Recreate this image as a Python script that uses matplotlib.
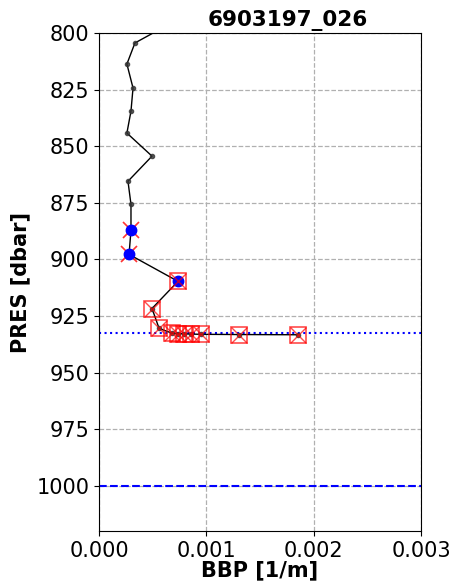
import numpy as np
from matplotlib import pyplot as plt

# profile values
pres = [797.0, 804.4, 813.7, 824.3, 834.5, 844.2, 854.4, 865.5, 875.7, 887.2, 897.8,
        909.7, 921.7, 930.5, 932.6, 932.8, 932.9, 933.0, 933.1, 933.2, 933.3]
bbp = [0.00062, 0.000335, 0.00026, 0.000317, 0.000298, 0.00026, 0.000494, 0.00027,
       0.000298, 0.000298, 0.00028, 0.000736, 0.000494, 0.00056, 0.00068, 0.00074,
       0.00079, 0.00086, 0.00095, 0.0013, 0.00185]

# flagged samples
good_idx = [9, 10, 11]          # blue circles
cross_idx = [9, 10]             # red x only
square_idx = [11, 12, 13, 14, 15, 16, 17, 18, 19, 20]  # red square + x

mld = 932.7
max_pres = 1000.0

pres = np.array(pres)
bbp = np.array(bbp)

fig = plt.figure(figsize=(4.51, 5.84), dpi=100)
ax = fig.add_axes([0.2195, 0.0907, 0.714, 0.8528])

ax.plot(bbp, pres, color="black", lw=1.0, zorder=3)
ax.plot(bbp, pres, "o", color="#333333", ms=3, alpha=0.8, zorder=4)
ax.plot(bbp[cross_idx], pres[cross_idx], "x", color="red", ms=12, mew=1.2, alpha=0.8, zorder=4)
ax.plot(bbp[square_idx], pres[square_idx], "s", mfc="none", mec="red", ms=12, mew=1.2, alpha=0.7, zorder=6)
ax.plot(bbp[square_idx], pres[square_idx], "x", color="red", ms=11, mew=1.0, alpha=0.7, zorder=6)
ax.plot(bbp[good_idx], pres[good_idx], "o", color="blue", ms=7.5, zorder=5)

ax.axhline(mld, color="blue", ls=":", lw=1.5, zorder=2)
ax.axhline(max_pres, color="blue", ls="--", lw=1.5, zorder=2)

ax.set_xlim(0, 0.003)
ax.set_ylim(1020, 800)
ax.set_xticks([0, 0.001, 0.002, 0.003])
ax.set_yticks(np.arange(800, 1001, 25))
ax.grid(True, ls="--", color="#b0b0b0", lw=0.9)
ax.tick_params(labelsize=15)

ax.set_title("6903197_026", fontsize=15.5, fontweight="bold", x=0.587, pad=5)
ax.set_xlabel("BBP [1/m]", fontsize=15, fontweight="bold", labelpad=0)
ax.set_ylabel("PRES [dbar]", fontsize=15, fontweight="bold")

fig.savefig("out.png", dpi=100)
